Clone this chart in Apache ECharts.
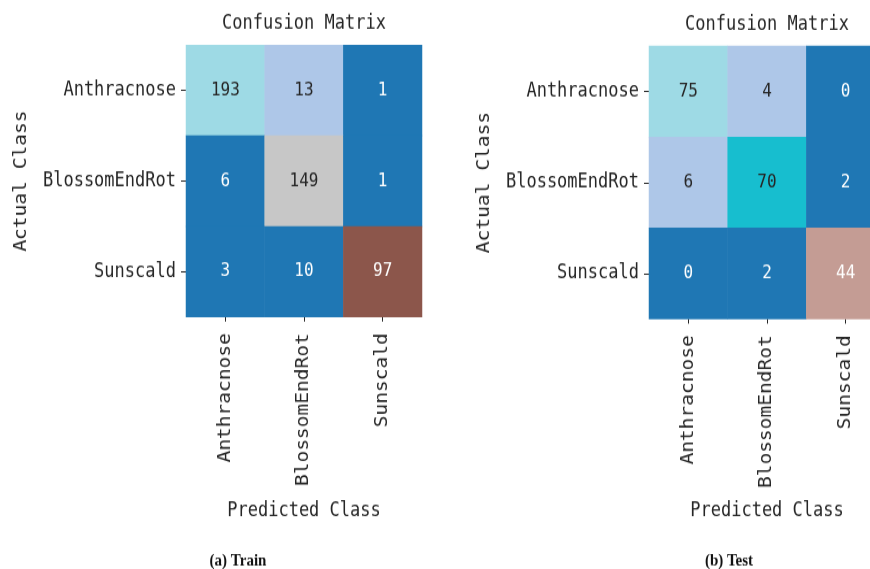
<!DOCTYPE html>
<html>
<head>
<meta charset="utf-8">
<script src="https://cdn.jsdelivr.net/npm/echarts@6/dist/echarts.min.js"></script>
<style>
  html, body { margin: 0; padding: 0; background: #ffffff; }
  #frame { width: 870px; height: 569px; overflow: hidden; position: relative; background: #ffffff; }
  /* The figure is drawn at a reduced height and stretched vertically to 569px */
  #chart { position: absolute; left: 0; top: 0; width: 870px; height: 495px;
           transform-origin: 0 0; transform: scaleY(1.14949); }
</style>
</head>
<body>
<div id="frame"><div id="chart"></div></div>
<script>
// Class names shared by both matrices (rows = actual, columns = predicted)
const classes = ['Anthracnose', 'BlossomEndRot', 'Sunscald'];

// Confusion matrix counts
const trainMatrix = [
  [193, 13, 1],
  [6, 149, 1],
  [3, 10, 97]
];
const testMatrix = [
  [75, 4, 0],
  [6, 70, 2],
  [0, 2, 44]
];

// Captions under each panel
const captions = ['(a) Train', '(b) Test'];

// tab20 qualitative palette, used as a 20-step listed colormap
const tab20 = [
  '#1f77b4', '#aec7e8', '#ff7f0e', '#ffbb78', '#2ca02c', '#98df8a',
  '#d62728', '#ff9896', '#9467bd', '#c5b0d5', '#8c564b', '#c49c94',
  '#e377c2', '#f7b6d2', '#7f7f7f', '#c7c7c7', '#bcbd22', '#dbdb8d',
  '#17becf', '#9edae5'
];

const MONO = '"DejaVu Sans Mono", "Liberation Mono", monospace';
const SERIF = '"Liberation Serif", "DejaVu Serif", serif';
const INK = '#262626';
const SY = 569 / 495;           // vertical stretch applied by CSS
const y = v => v / SY;          // page y -> drawing y

function range(mat) {
  const flat = mat.flat();
  return [Math.min(...flat), Math.max(...flat)];
}

// Pieces splitting [min, max] into 20 equal bins, one colour each
function pieces(mat) {
  const [lo, hi] = range(mat);
  const step = (hi - lo) / tab20.length;
  return tab20.map((c, i) => ({
    gte: lo + i * step,
    lt: i === tab20.length - 1 ? hi + 1 : lo + (i + 1) * step,
    color: c
  }));
}

function binColor(mat, v) {
  const [lo, hi] = range(mat);
  let i = Math.floor((v - lo) / (hi - lo) * tab20.length);
  i = Math.max(0, Math.min(tab20.length - 1, i));
  return tab20[i];
}

// Light text on dark cells, dark text on light cells
function textColor(hex) {
  const ch = [1, 3, 5].map(k => parseInt(hex.substr(k, 2), 16) / 255)
    .map(c => c <= 0.03928 ? c / 12.92 : Math.pow((c + 0.055) / 1.055, 2.4));
  const lum = 0.2126 * ch[0] + 0.7152 * ch[1] + 0.0722 * ch[2];
  return lum > 0.408 ? INK : '#ffffff';
}

function cells(mat) {
  const out = [];
  mat.forEach((row, r) => row.forEach((v, c) => {
    out.push({
      value: [c, r, v],
      label: { color: textColor(binColor(mat, v)) }
    });
  }));
  return out;
}

const grids = [
  { left: 186, top: y(45), width: 236, height: y(272), outerBoundsMode: 'none', containLabel: false },
  { left: 649, top: y(46), width: 236, height: y(273), outerBoundsMode: 'none', containLabel: false }
];
const centers = grids.map(g => g.left + g.width / 2);
const nameGaps = [160, 159];

function xAxisFor(i) {
  return {
    type: 'category', gridIndex: i, data: classes, position: 'bottom',
    axisLine: { show: false },
    axisTick: { show: true, alignWithLabel: true, length: 4, lineStyle: { color: INK, width: 1 } },
    axisLabel: { rotate: 90, margin: 14, color: INK, fontFamily: MONO, fontSize: 17 },
    splitArea: { show: false },
    name: 'Predicted Class', nameLocation: 'middle', nameGap: nameGaps[i], nameMoveOverlap: false,
    nameTextStyle: { color: INK, fontFamily: MONO, fontSize: 17 }
  };
}
function yAxisFor(i) {
  return {
    type: 'category', gridIndex: i, data: classes, inverse: true,
    axisLine: { show: false },
    axisTick: { show: true, alignWithLabel: true, length: 5, lineStyle: { color: INK, width: 1 } },
    axisLabel: { margin: 10, color: INK, fontFamily: MONO, fontSize: 17 },
    name: 'Actual Class', nameLocation: 'middle', nameGap: 156, nameMoveOverlap: false,
    nameTextStyle: { color: INK, fontFamily: MONO, fontSize: 17 }
  };
}
function heatSeries(i, mat) {
  return {
    type: 'heatmap', xAxisIndex: i, yAxisIndex: i,
    data: cells(mat),
    label: { show: true, fontFamily: MONO, fontSize: 16, formatter: p => String(p.value[2]) },
    itemStyle: { borderWidth: 0 },
    emphasis: { disabled: true }
  };
}

const titleStyle = { color: INK, fontFamily: MONO, fontSize: 17, fontWeight: 'normal' };
const captionStyle = { color: '#111111', fontFamily: SERIF, fontSize: 15, fontWeight: 'bold' };

const chart = echarts.init(document.getElementById('chart'), null, { renderer: 'canvas' });
chart.setOption({
  backgroundColor: '#ffffff',
  animation: false,
  title: [
    { text: 'Confusion Matrix', left: centers[0], top: 12, textAlign: 'center', padding: 0, textStyle: titleStyle },
    { text: 'Confusion Matrix', left: centers[1], top: 13, textAlign: 'center', padding: 0, textStyle: titleStyle },
    { text: captions[0], left: 238, top: 481, textAlign: 'center', padding: 0, textStyle: captionStyle },
    { text: captions[1], left: 729, top: 481, textAlign: 'center', padding: 0, textStyle: captionStyle }
  ],
  grid: grids,
  xAxis: [xAxisFor(0), xAxisFor(1)],
  yAxis: [yAxisFor(0), yAxisFor(1)],
  visualMap: [
    { type: 'piecewise', show: false, seriesIndex: 0, dimension: 2, pieces: pieces(trainMatrix) },
    { type: 'piecewise', show: false, seriesIndex: 1, dimension: 2, pieces: pieces(testMatrix) }
  ],
  series: [heatSeries(0, trainMatrix), heatSeries(1, testMatrix)]
});
</script>
</body>
</html>
